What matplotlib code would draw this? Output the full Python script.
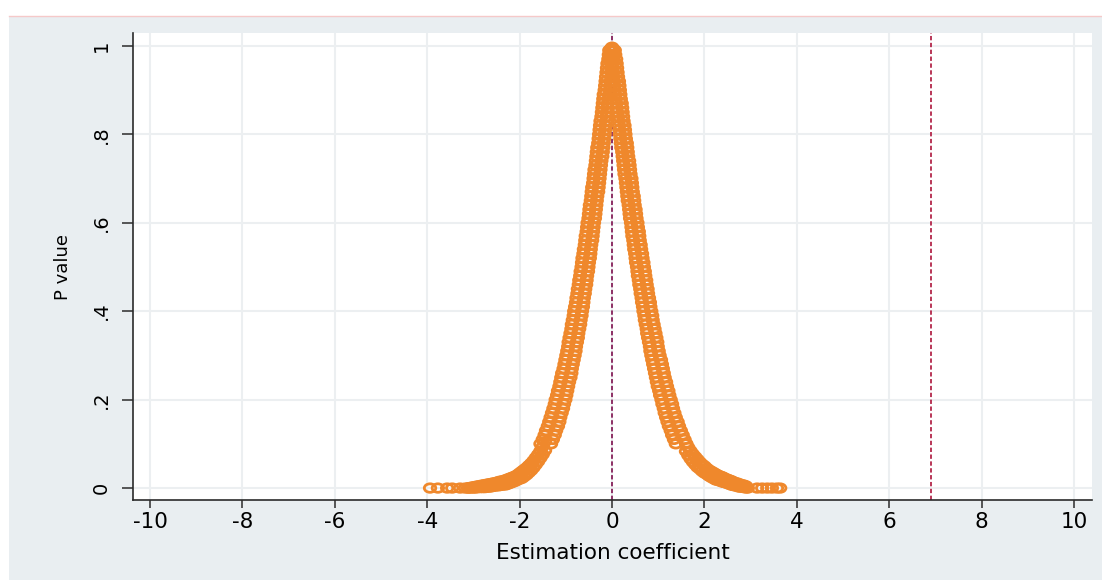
import matplotlib
matplotlib.use("Agg")
import matplotlib.pyplot as plt
from matplotlib.patches import Rectangle
from matplotlib.lines import Line2D
from matplotlib.path import Path
from matplotlib.transforms import Affine2D

plt.rcParams['font.family'] = ['DejaVu Sans']
plt.rcParams['axes.unicode_minus'] = False

# placebo estimates: p value levels on the steep part
p_steep = [0.99, 0.98, 0.97, 0.96, 0.95, 0.94, 0.93, 0.92, 0.91, 0.90,
           0.89, 0.88, 0.87, 0.86, 0.85, 0.84, 0.83, 0.82, 0.81, 0.80,
           0.79, 0.78, 0.77, 0.76, 0.75, 0.74, 0.73, 0.72, 0.71, 0.70,
           0.69, 0.68, 0.67, 0.66, 0.65, 0.64, 0.63, 0.62, 0.61, 0.60,
           0.59, 0.58, 0.57, 0.56, 0.55, 0.54, 0.53, 0.52, 0.51, 0.50,
           0.49, 0.48, 0.47, 0.46, 0.45, 0.44, 0.43, 0.42, 0.41, 0.40,
           0.39, 0.38, 0.37, 0.36, 0.35, 0.34, 0.33, 0.32, 0.31, 0.30,
           0.29, 0.28, 0.27, 0.26, 0.25, 0.24, 0.23, 0.22, 0.21, 0.20,
           0.19, 0.18, 0.17, 0.16, 0.15, 0.14, 0.13, 0.12, 0.11, 0.10]

left_in = [0.04, 0.03, 0.02, 0.01, 0.00, -0.01, -0.02, -0.03, -0.04, -0.05,
           -0.06, -0.08, -0.09, -0.10, -0.11, -0.12, -0.13, -0.14, -0.15, -0.16,
           -0.17, -0.18, -0.19, -0.20, -0.21, -0.23, -0.24, -0.25, -0.26, -0.27,
           -0.28, -0.29, -0.30, -0.32, -0.33, -0.34, -0.35, -0.36, -0.37, -0.39,
           -0.40, -0.41, -0.42, -0.43, -0.45, -0.46, -0.47, -0.48, -0.50, -0.51,
           -0.52, -0.54, -0.55, -0.56, -0.58, -0.59, -0.61, -0.62, -0.63, -0.65,
           -0.66, -0.68, -0.69, -0.71, -0.73, -0.74, -0.76, -0.78, -0.79, -0.81,
           -0.83, -0.85, -0.87, -0.88, -0.90, -0.93, -0.95, -0.97, -0.99, -1.01,
           -1.04, -1.06, -1.09, -1.12, -1.14, -1.17, -1.21, -1.24, -1.28, -1.32]

left_out = [-0.06, -0.07, -0.08, -0.10, -0.11, -0.12, -0.13, -0.14, -0.15, -0.16,
            -0.18, -0.19, -0.20, -0.21, -0.22, -0.23, -0.25, -0.26, -0.27, -0.28,
            -0.29, -0.30, -0.32, -0.33, -0.34, -0.35, -0.36, -0.38, -0.39, -0.40,
            -0.41, -0.43, -0.44, -0.45, -0.46, -0.48, -0.49, -0.50, -0.51, -0.53,
            -0.54, -0.55, -0.57, -0.58, -0.59, -0.61, -0.62, -0.64, -0.65, -0.66,
            -0.68, -0.69, -0.71, -0.72, -0.74, -0.75, -0.77, -0.78, -0.80, -0.82,
            -0.83, -0.85, -0.87, -0.88, -0.90, -0.92, -0.94, -0.95, -0.97, -0.99,
            -1.01, -1.03, -1.05, -1.08, -1.10, -1.12, -1.14, -1.17, -1.19, -1.22,
            -1.24, -1.27, -1.30, -1.33, -1.36, -1.39, -1.43, -1.46, -1.50, -1.55]

right_in = [-0.04, -0.03, -0.02, -0.01, 0.00, 0.02, 0.03, 0.04, 0.05, 0.06,
            0.07, 0.08, 0.09, 0.10, 0.11, 0.13, 0.14, 0.15, 0.16, 0.17,
            0.18, 0.19, 0.20, 0.22, 0.23, 0.24, 0.25, 0.26, 0.27, 0.29,
            0.30, 0.31, 0.32, 0.33, 0.34, 0.36, 0.37, 0.38, 0.39, 0.41,
            0.42, 0.43, 0.44, 0.46, 0.47, 0.48, 0.50, 0.51, 0.52, 0.54,
            0.55, 0.56, 0.58, 0.59, 0.61, 0.62, 0.64, 0.65, 0.67, 0.68,
            0.70, 0.71, 0.73, 0.75, 0.76, 0.78, 0.80, 0.82, 0.83, 0.85,
            0.87, 0.89, 0.91, 0.93, 0.95, 0.97, 0.99, 1.02, 1.04, 1.07,
            1.09, 1.12, 1.14, 1.17, 1.20, 1.23, 1.27, 1.30, 1.34, 1.38]

right_out = [0.06, 0.07, 0.09, 0.10, 0.11, 0.12, 0.13, 0.15, 0.16, 0.17,
             0.18, 0.19, 0.21, 0.22, 0.23, 0.24, 0.25, 0.27, 0.28, 0.29,
             0.30, 0.32, 0.33, 0.34, 0.35, 0.37, 0.38, 0.39, 0.40, 0.42,
             0.43, 0.44, 0.45, 0.47, 0.48, 0.49, 0.51, 0.52, 0.53, 0.55,
             0.56, 0.58, 0.59, 0.60, 0.62, 0.63, 0.65, 0.66, 0.68, 0.69,
             0.71, 0.72, 0.74, 0.75, 0.77, 0.78, 0.80, 0.82, 0.83, 0.85,
             0.87, 0.88, 0.90, 0.92, 0.94, 0.96, 0.98, 0.99, 1.01, 1.03,
             1.06, 1.08, 1.10, 1.12, 1.14, 1.17, 1.19, 1.22, 1.24, 1.27,
             1.30, 1.32, 1.35, 1.38, 1.42, 1.45, 1.49, 1.53, 1.57, 1.61]

# tip of the peak
peak_coef = [0.00, -0.02, 0.02]
peak_p = [0.997, 0.994, 0.994]

# flat tails (coefficient, upper and lower p of the band)
left_tail_coef = [-1.45, -1.50, -1.55, -1.60, -1.65, -1.70, -1.75, -1.80, -1.85, -1.90,
                  -1.95, -2.00, -2.05, -2.10, -2.15, -2.20, -2.25, -2.30, -2.35, -2.40,
                  -2.45, -2.50, -2.55, -2.60, -2.65, -2.70, -2.75, -2.80, -2.85, -2.90,
                  -2.95, -3.00, -3.05, -3.10]
left_tail_hi = [0.105, 0.094, 0.084, 0.076, 0.069, 0.062, 0.056, 0.051, 0.046, 0.042,
                0.038, 0.034, 0.030, 0.027, 0.025, 0.023, 0.021, 0.019, 0.017, 0.016,
                0.015, 0.013, 0.012, 0.011, 0.010, 0.009, 0.008, 0.007, 0.006, 0.005,
                0.004, 0.003, 0.002, 0.001]
left_tail_lo = [0.085, 0.076, 0.068, 0.060, 0.053, 0.046, 0.040, 0.035, 0.030, 0.026,
                0.022, 0.020, 0.018, 0.015, 0.013, 0.011, 0.009, 0.007, 0.007, 0.006,
                0.005, 0.005, 0.004, 0.003, 0.002, 0.002, 0.001, 0.001, 0.001, 0.001,
                0.000, 0.000, 0.000, 0.000]

right_tail_coef = [1.60, 1.65, 1.70, 1.75, 1.80, 1.85, 1.90, 1.95, 2.00, 2.05,
                   2.10, 2.15, 2.20, 2.25, 2.30, 2.35, 2.40, 2.45, 2.50, 2.55,
                   2.60, 2.65, 2.70, 2.75, 2.80, 2.85, 2.90]
right_tail_hi = [0.101, 0.092, 0.084, 0.077, 0.071, 0.065, 0.059, 0.054, 0.050, 0.045,
                 0.041, 0.038, 0.035, 0.032, 0.029, 0.027, 0.025, 0.022, 0.020, 0.018,
                 0.016, 0.013, 0.012, 0.010, 0.008, 0.007, 0.005]
right_tail_lo = [0.083, 0.074, 0.066, 0.059, 0.053, 0.047, 0.043, 0.038, 0.034, 0.031,
                 0.027, 0.024, 0.021, 0.018, 0.017, 0.015, 0.013, 0.012, 0.010, 0.008,
                 0.006, 0.005, 0.004, 0.002, 0.002, 0.001, 0.000]

# isolated extreme estimates
far_coef = [-3.12, -3.18, -3.29, -3.46, -3.57, -3.77, -3.94,
            2.94, 3.14, 3.25, 3.36, 3.46, 3.57, 3.64]
far_p = [0.0, 0.0, 0.0, 0.0, 0.0, 0.0, 0.0,
         0.0, 0.0, 0.0, 0.0, 0.0, 0.0, 0.0]

true_coef = 6.9

xs = (left_in + left_out + right_in + right_out + peak_coef
      + left_tail_coef + left_tail_coef + right_tail_coef + right_tail_coef + far_coef)
ys = (p_steep * 4 + peak_p
      + left_tail_hi + left_tail_lo + right_tail_hi + right_tail_lo + far_p)

W, H = 1102, 580
fig = plt.figure(figsize=(W / 100, H / 100), dpi=100, facecolor='white')
fig.patches.append(Rectangle((9 / W, 0), 1, (H - 17) / H, transform=fig.transFigure,
                             facecolor='#e9eef1', edgecolor='none', zorder=-5))
fig.add_artist(Line2D([9 / W, 1], [1 - 15.5 / H] * 2, color='#f5c9c9', lw=1.0, zorder=-4))

ax = fig.add_axes([133 / W, 1 - 500 / H, (1092 - 133) / W, (500 - 33) / H])
ax.set_facecolor('white')

# the source picture is a bit stretched sideways, so the hollow circles look wide
wide_circle = Path.unit_circle().transformed(Affine2D().scale(1.35, 1.0))
ax.scatter(xs, ys, s=68, marker=wide_circle, facecolors='none', edgecolors='#ef882c',
           linewidths=2.0, zorder=3)
ax.axvline(0, color='#85205a', lw=1.3, linestyle=(0, (2.4, 1.4)), zorder=2)
ax.axvline(true_coef, color='#b3264a', lw=1.3, linestyle=(0, (2.4, 1.4)), zorder=2)

ax.set_xlim(-10.37, 10.39)
ax.set_ylim(-0.027, 1.029)
xt = list(range(-10, 11, 2))
ax.set_xticks(xt)
ax.set_xticklabels([str(v) for v in xt])
yt = [0, 0.2, 0.4, 0.6, 0.8, 1.0]
ax.set_yticks(yt)
ax.set_yticklabels(['0', '.2', '.4', '.6', '.8', '1'], rotation=90, va='center')

ax.grid(True, color='#eceff1', lw=1.5)
ax.set_axisbelow(True)
for side in ['top', 'right']:
    ax.spines[side].set_visible(False)
for side in ['left', 'bottom']:
    ax.spines[side].set_color('#2b2b2b')
    ax.spines[side].set_linewidth(1.2)

ax.tick_params(axis='x', length=5.5, width=1.1, color='#2b2b2b', labelsize=15.5, pad=3)
ax.tick_params(axis='y', length=8, width=1.1, color='#2b2b2b', labelsize=14, pad=8)
ax.set_xlabel('Estimation coefficient', fontsize=15.5, labelpad=8)
ax.set_ylabel('P value', fontsize=13, labelpad=14)

fig.savefig('out.png', dpi=100)
